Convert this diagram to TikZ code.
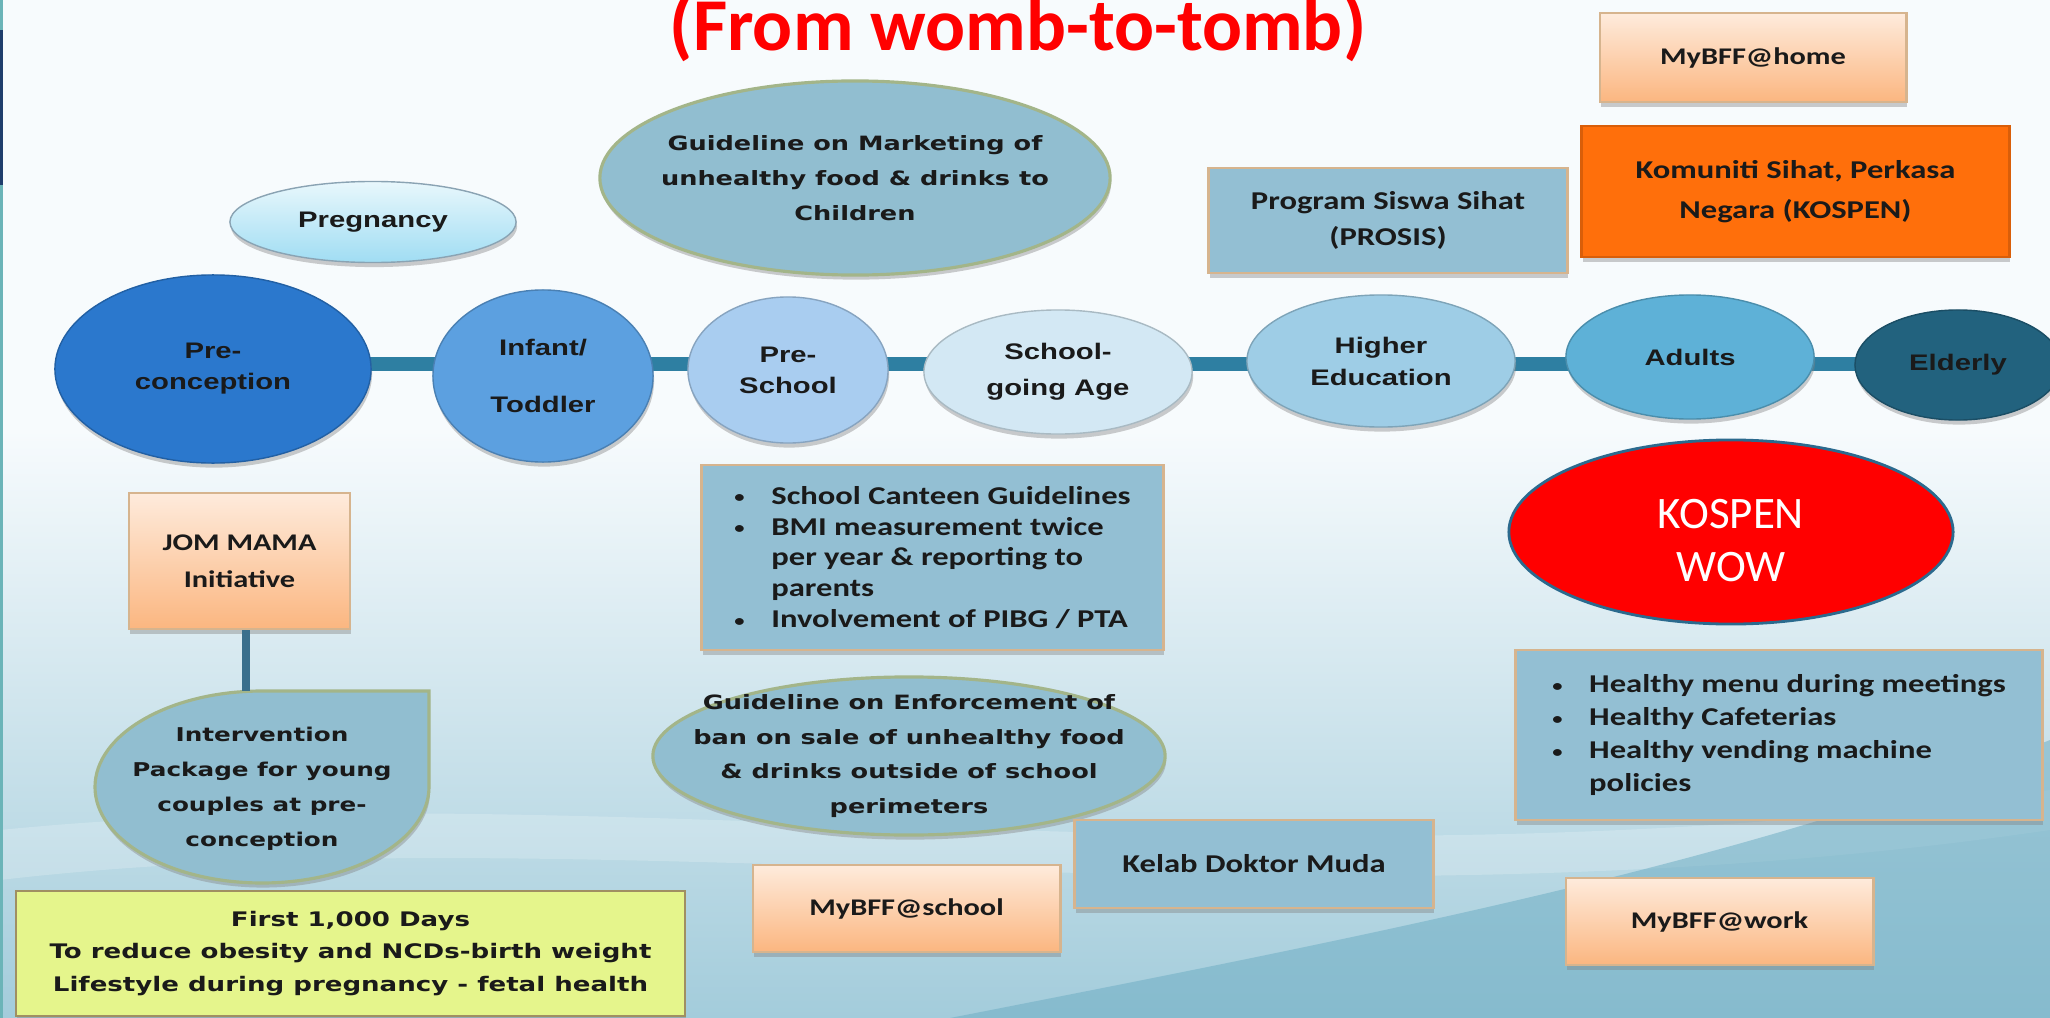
\documentclass[tikz,border=0pt]{standalone}
\usepackage{fontspec}
\setmainfont{Carlito}
\newfontfamily\calb[FakeStretch=1.27]{Carlito}
\newfontfamily\arb[FakeStretch=1.3]{Liberation Sans}
\newfontfamily\comic[FakeStretch=1.3]{DejaVu Sans}
\usetikzlibrary{shapes.geometric,shadows}
\pgfdeclarelayer{back}
\pgfdeclarelayer{bg}
\pgfsetlayers{back,bg,main}

\definecolor{txt}{HTML}{1A1A1A}
\definecolor{cPre}{HTML}{2B78CD}
\definecolor{cInf}{HTML}{5CA0E0}
\definecolor{cPsch}{HTML}{A9CDF0}
\definecolor{cSga}{HTML}{D3E8F4}
\definecolor{cHed}{HTML}{9ECDE6}
\definecolor{cAdu}{HTML}{5EB1D7}
\definecolor{cEld}{HTML}{22627E}
\definecolor{cBar}{HTML}{2E7FA2}
\definecolor{cBlue}{HTML}{93BFD3}
\definecolor{cOval}{HTML}{91BED0}
\definecolor{cOvalLine}{HTML}{A3B589}
\definecolor{cPeachT}{HTML}{FEEBDC}
\definecolor{cPeachB}{HTML}{FBB680}
\definecolor{cTan}{HTML}{D6B48E}
\definecolor{cOrange}{HTML}{FF6F0B}
\definecolor{cYellow}{HTML}{E5F58C}
\definecolor{cYellowLine}{HTML}{A08F62}
\definecolor{cRedLine}{HTML}{2B6A8E}
\definecolor{cPregT}{HTML}{E8F7FC}
\definecolor{cPregB}{HTML}{A0DDF3}
\definecolor{cPregLine}{HTML}{8AA3B3}
\definecolor{bgtop}{HTML}{F7FBFD}
\definecolor{bgbot}{HTML}{A3CCDB}
\definecolor{wave}{HTML}{6FAEC4}
\definecolor{stripteal}{HTML}{6BB4B8}
\definecolor{stripnavy}{HTML}{1F3E6C}
\definecolor{cLine}{HTML}{3A6F8C}

\newcommand\bul{\makebox[10.5pt][l]{\fontsize{4.6}{4.6}\selectfont\raisebox{0.4pt}{•}}}
\newcommand\nobul{\makebox[10.5pt][l]{}}

\tikzset{
  shad/.style={drop shadow={opacity=.4, shadow xshift=0.3pt, shadow yshift=-1.3pt}},
  stage/.style={ellipse, inner sep=0pt, fill=#1, draw=#1!80!black, line width=0.4pt,
    text=txt, align=center, font=\arb\bfseries\fontsize{6.4}{8.8}\selectfont, shad},
  bluebox/.style={rectangle, inner sep=0pt, fill=cBlue, draw=cTan, line width=0.8pt,
    text=txt, align=center, font=\calb\bfseries\fontsize{7.3}{10.2}\selectfont, shad},
  peachbox/.style={bluebox, top color=cPeachT, bottom color=cPeachB,
    font=\calb\bfseries\fontsize{6.8}{10.5}\selectfont},
  oval/.style={ellipse, inner sep=0pt, fill=cOval, draw=cOvalLine, line width=0.9pt, shad},
  lbl/.style={font=\comic\bfseries\fontsize{5.6}{10}\selectfont, align=center, text=txt, inner sep=0pt},
  bar/.style={draw=cBar, line width=0.13cm},
  vline/.style={draw=cLine, line width=2pt},
}

\begin{document}
\begin{tikzpicture}[x=0.01cm,y=-0.01cm]
\useasboundingbox (0,0) rectangle (2050,1018);

\begin{pgfonlayer}{back}
  \fill[bgtop] (0,0) rectangle (2050,1018);
  \shade[top color=bgtop, bottom color=bgbot] (0,430) rectangle (2050,1018);
  \fill[white, opacity=.2] (0,830) .. controls (600,770) and (1300,900) .. (2050,790)
     -- (2050,830) .. controls (1300,940) and (600,810) .. (0,880) -- cycle;
  \fill[wave, opacity=.55] (950,1018) .. controls (1400,930) and (1750,860) .. (2050,740)
     -- (2050,1018) -- cycle;
  \fill[stripteal] (0,0) rectangle (3,1018);
  \fill[stripnavy] (0,30) rectangle (3,185);
\end{pgfonlayer}

% title
\node[text=red, font=\bfseries\fontsize{21.2}{25}\selectfont, anchor=base, inner sep=0pt]
  (title) at (1018,51) {(From womb-to-tomb)};

% life stages
\coordinate (axis) at (0,364);
\node[stage=cPre, minimum width=3.16cm, minimum height=1.88cm] (pre) at (213,369) {Pre-\\conception};
\node[stage=cInf, minimum width=2.2cm, minimum height=1.72cm,
  font=\arb\bfseries\fontsize{6.4}{16}\selectfont] (inf) at (543,376) {Infant/\\Toddler};
\node[stage=cPsch, minimum width=2.0cm, minimum height=1.46cm] (psch) at (788,370) {Pre-\\School};
\node[stage=cSga, minimum width=2.68cm, minimum height=1.24cm,
  font=\arb\bfseries\fontsize{6.4}{10.2}\selectfont] (sga) at (1058,372) {School-\\going Age};
\node[stage=cHed, minimum width=2.68cm, minimum height=1.32cm,
  font=\arb\bfseries\fontsize{6.4}{9.1}\selectfont] (hed) at (1381,361) {Higher\\Education};
\node[stage=cAdu, minimum width=2.48cm, minimum height=1.24cm] (adu) at (1690,357) {Adults};
\node[stage=cEld, minimum width=2.06cm, minimum height=1.10cm] (eld) at (1958,365) {Elderly};

\node[stage=cPregB, top color=cPregT, bottom color=cPregB, draw=cPregLine,
  minimum width=2.86cm, minimum height=0.81cm] (preg) at (373,222) {Pregnancy};

\begin{pgfonlayer}{bg}
  \draw[bar] (pre |- axis) -- (inf |- axis);
  \draw[bar] (inf |- axis) -- (psch |- axis);
  \draw[bar] (psch |- axis) -- (sga |- axis);
  \draw[bar] (sga |- axis) -- (hed |- axis);
  \draw[bar] (hed |- axis) -- (adu |- axis);
  \draw[bar] (adu |- axis) -- (eld |- axis);
\end{pgfonlayer}

% guideline ovals
\node[oval, minimum width=5.1cm, minimum height=1.94cm,
  label={[lbl]center:{Guideline on Marketing of\\unhealthy food \& drinks to\\Children}}]
  (mkt) at (855,178) {};
\node[oval, minimum width=5.12cm, minimum height=1.58cm,
  label={[lbl, font=\comic\bfseries\fontsize{5.6}{9.8}\selectfont]center:{Guideline on Enforcement of\\ban on sale of unhealthy food\\\& drinks outside of school\\perimeters}}]
  (enf) at (909,756) {};

% top right boxes
\node[peachbox, minimum width=3.06cm, minimum height=0.89cm] (home) at (1753,57.5) {MyBFF@home};
\node[bluebox, fill=cOrange, draw=cOrange!85!black, minimum width=4.27cm, minimum height=1.31cm,
  font=\calb\bfseries\fontsize{7.3}{11.4}\selectfont] (kosp) at (1795.5,191.5) {Komuniti Sihat, Perkasa\\Negara (KOSPEN)};
\node[bluebox, minimum width=3.58cm, minimum height=1.05cm] (pros) at (1388,220.5) {Program Siswa Sihat\\(PROSIS)};

% left column
\node[peachbox, minimum width=2.21cm, minimum height=1.36cm] (jom) at (239.5,561) {JOM MAMA\\Initiative};
\coordinate (teartop) at (246,691);
\draw[fill=cOval, draw=cOvalLine, line width=0.9pt, shad]
  (95,787) .. controls (95,734) and (170,691) .. (262,691) -- (429,691) -- (429,787)
  .. controls (429,840) and (354,883) .. (262,883) .. controls (170,883) and (95,840) .. (95,787) -- cycle;
\node[lbl, font=\comic\bfseries\fontsize{5.4}{10}\selectfont] (interv) at (262,789)
  {Intervention\\Package for young\\couples at pre-\\conception};
\draw[vline] (jom.south -| teartop) -- (teartop);

\node[rectangle, fill=cYellow, draw=cYellowLine, line width=0.7pt, minimum width=6.69cm,
  minimum height=1.25cm, inner sep=0pt, align=center, text=txt,
  font=\comic\bfseries\fontsize{5.7}{9.25}\selectfont, shad] (first) at (350.5,953.5)
  {First 1,000 Days\\To reduce obesity and NCDs-birth weight\\Lifestyle during pregnancy - fetal health};

% middle column
\node[bluebox, minimum width=4.61cm, minimum height=1.85cm, align=left,
  font=\calb\bfseries\fontsize{7.3}{8.75}\selectfont] (cant) at (932.5,557.5)
  {\bul School Canteen Guidelines\\
   \bul BMI measurement twice\\
   \nobul per year \& reporting to\\
   \nobul parents\\
   \bul Involvement of PIBG / PTA};
\node[peachbox, minimum width=3.07cm, minimum height=0.87cm] (sch) at (906.5,908.5) {MyBFF@school};
\node[bluebox, minimum width=3.58cm, minimum height=0.88cm] (kelab) at (1254,864) {Kelab Doktor Muda};

% right column
\node[ellipse, inner sep=0pt, fill=red, draw=cRedLine, line width=0.8pt,
  minimum width=4.44cm, minimum height=1.84cm, text=white, align=center,
  font=\fontsize{12.8}{15}\selectfont] (kwow) at (1731,532) {\rule{0pt}{13pt}KOSPEN\\WOW};
\node[bluebox, minimum width=5.26cm, minimum height=1.70cm, align=left,
  font=\calb\bfseries\fontsize{7.3}{9.4}\selectfont] (hlth) at (1779,735)
  {\bul Healthy menu during meetings\\
   \bul Healthy Cafeterias\\
   \bul Healthy vending machine\\
   \nobul policies};
\node[peachbox, minimum width=3.07cm, minimum height=0.87cm] (work) at (1719.5,921.5) {MyBFF@work};
\end{tikzpicture}
\end{document}
